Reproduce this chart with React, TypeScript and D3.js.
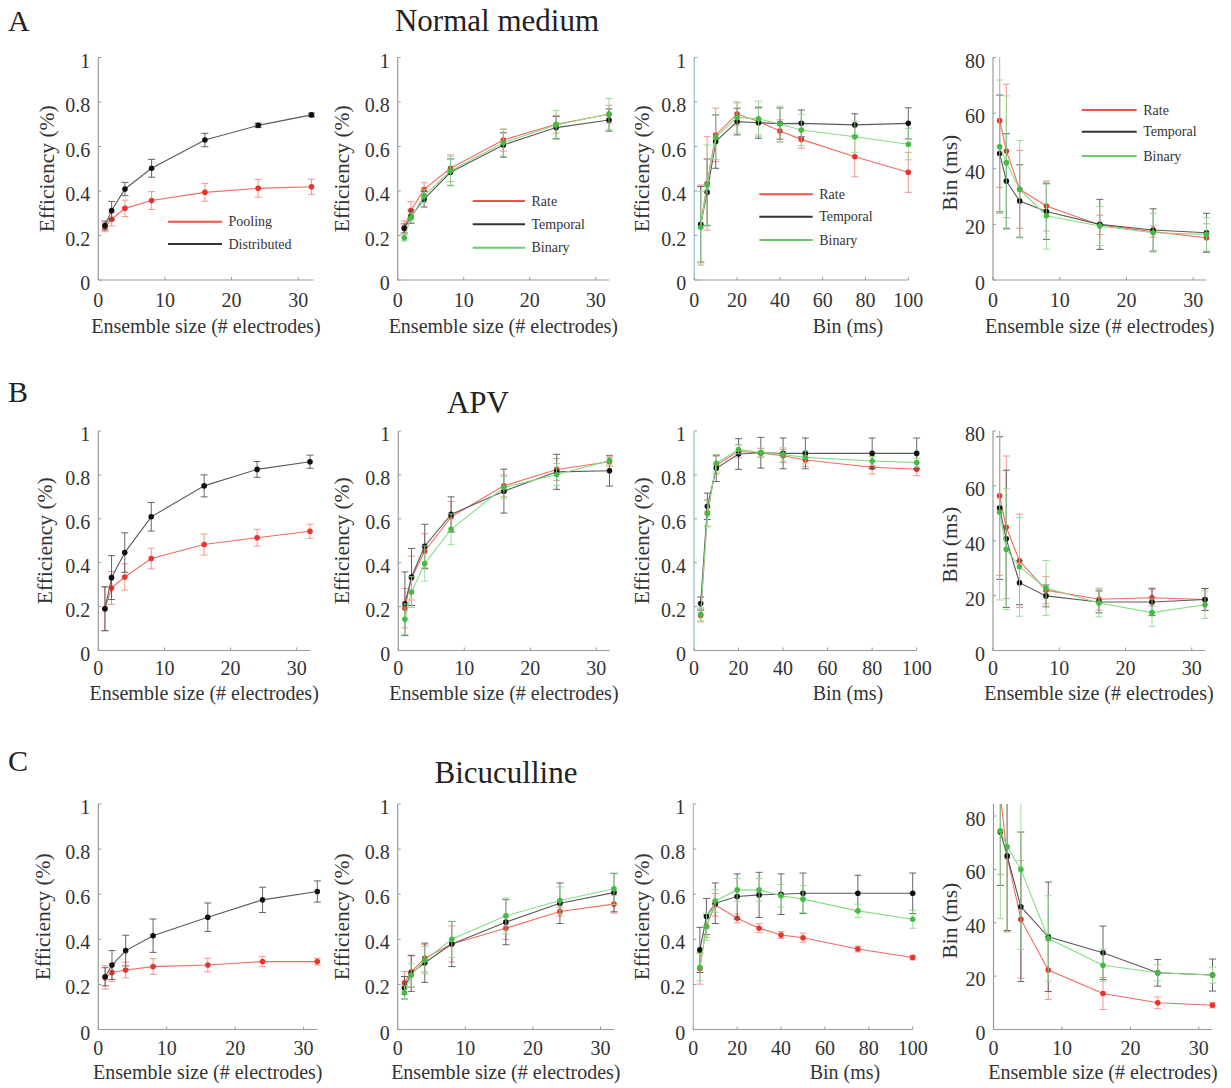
import React from 'react';
import * as d3 from 'd3';

// ---------- data ----------
const ENSEMBLE_SIZES = [1, 2, 4, 8, 16, 24, 32];
const BIN_SIZES = [3, 6, 10, 20, 30, 40, 50, 75, 100];
const BIN_SIZES_APV = [3, 6, 10, 20, 30, 40, 50, 80, 100];

const EFF_TICKS = [0, 0.2, 0.4, 0.6, 0.8, 1];
const EFF_TICK_LABELS = ['0', '0.2', '0.4', '0.6', '0.8', '1'];
const BINMS_TICKS = [0, 20, 40, 60, 80];
const BINMS_TICK_LABELS = ['0', '20', '40', '60', '80'];
const ENSEMBLE_TICKS = [0, 10, 20, 30];
const ENSEMBLE_TICK_LABELS = ['0', '10', '20', '30'];
const BIN_TICKS = [0, 20, 40, 60, 80, 100];
const BIN_TICK_LABELS = ['0', '20', '40', '60', '80', '100'];

const ROW_TITLES = ['Normal medium', 'APV', 'Bicuculline'];
const ROW_LETTERS = ['A', 'B', 'C'];
const LEGEND_POOL = ['Pooling', 'Distributed'];
const LEGEND_CODE = ['Rate', 'Temporal', 'Binary'];

// Row A – Normal medium
const A1_POOLING = [0.237, 0.273, 0.322, 0.357, 0.394, 0.412, 0.419];
const A1_POOLING_ERR = [0.02, 0.03, 0.037, 0.04, 0.04, 0.04, 0.034];
const A1_DISTRIB = [0.245, 0.312, 0.409, 0.502, 0.629, 0.695, 0.742];
const A1_DISTRIB_ERR = [0.02, 0.041, 0.03, 0.04, 0.03, 0.01, 0.008];

const A2_RATE = [0.235, 0.312, 0.407, 0.502, 0.629, 0.7, 0.745];
const A2_RATE_ERR = [0.03, 0.04, 0.03, 0.06, 0.05, 0.04, 0.04];
const A2_TEMP = [0.232, 0.285, 0.363, 0.484, 0.607, 0.685, 0.719];
const A2_TEMP_ERR = [0.02, 0.03, 0.035, 0.06, 0.055, 0.05, 0.05];
const A2_BIN = [0.19, 0.28, 0.378, 0.491, 0.617, 0.697, 0.746];
const A2_BIN_ERR = [0.015, 0.02, 0.03, 0.065, 0.06, 0.065, 0.07];

const A3_RATE = [0.247, 0.434, 0.652, 0.746, 0.712, 0.67, 0.632, 0.554, 0.484];
const A3_RATE_ERR = [0.18, 0.21, 0.12, 0.05, 0.06, 0.05, 0.04, 0.09, 0.09];
const A3_TEMP = [0.25, 0.394, 0.622, 0.712, 0.707, 0.703, 0.704, 0.697, 0.704];
const A3_TEMP_ERR = [0.17, 0.15, 0.12, 0.06, 0.07, 0.07, 0.06, 0.05, 0.07];
const A3_BIN = [0.237, 0.427, 0.641, 0.731, 0.724, 0.701, 0.674, 0.644, 0.61];
const A3_BIN_ERR = [0.16, 0.18, 0.1, 0.07, 0.08, 0.08, 0.07, 0.07, 0.07];

const A4_RATE = [57.3, 46.4, 32.6, 26.6, 19.8, 17.4, 15.2];
const A4_RATE_ERR = [24, 24, 14, 9, 3.5, 2, 5];
const A4_TEMP = [45.5, 35.6, 28.4, 24.6, 20.0, 18.0, 17.0];
const A4_TEMP_ERR = [21, 17, 13, 10, 9, 7.6, 7];
const A4_BIN = [47.9, 42.2, 32.6, 23.1, 19.4, 17.0, 16.4];
const A4_BIN_ERR = [24, 24, 17.5, 12, 7, 7, 6];

// Row B – APV
const B1_POOLING = [0.19, 0.285, 0.335, 0.419, 0.483, 0.514, 0.543];
const B1_POOLING_ERR = [0.1, 0.075, 0.06, 0.047, 0.048, 0.038, 0.032];
const B1_DISTRIB = [0.19, 0.332, 0.446, 0.609, 0.75, 0.825, 0.86];
const B1_DISTRIB_ERR = [0.1, 0.1, 0.09, 0.065, 0.05, 0.036, 0.03];

const B2_RATE = [0.193, 0.33, 0.452, 0.609, 0.75, 0.825, 0.86];
const B2_RATE_ERR = [0.09, 0.1, 0.08, 0.07, 0.05, 0.05, 0.02];
const B2_TEMP = [0.213, 0.335, 0.475, 0.62, 0.726, 0.814, 0.819];
const B2_TEMP_ERR = [0.145, 0.13, 0.1, 0.08, 0.1, 0.08, 0.07];
const B2_BIN = [0.142, 0.266, 0.396, 0.552, 0.743, 0.802, 0.865];
const B2_BIN_ERR = [0.07, 0.07, 0.08, 0.07, 0.05, 0.05, 0.02];

const B3_RATE = [0.16, 0.627, 0.845, 0.908, 0.9, 0.887, 0.868, 0.835, 0.826];
const B3_RATE_ERR = [0.03, 0.06, 0.04, 0.03, 0.02, 0.03, 0.03, 0.03, 0.03];
const B3_TEMP = [0.214, 0.657, 0.83, 0.895, 0.901, 0.898, 0.898, 0.898, 0.898];
const B3_TEMP_ERR = [0.03, 0.06, 0.06, 0.07, 0.07, 0.07, 0.07, 0.07, 0.07];
const B3_BIN = [0.165, 0.623, 0.853, 0.916, 0.902, 0.893, 0.88, 0.863, 0.856];
const B3_BIN_ERR = [0.03, 0.06, 0.04, 0.02, 0.02, 0.03, 0.03, 0.02, 0.02];

const B4_RATE = [56.4, 44.9, 32.7, 22.0, 18.7, 19.2, 18.6];
const B4_RATE_ERR = [29, 26, 17, 5, 4, 3, 4];
const B4_TEMP = [51.9, 40.7, 24.7, 19.9, 17.7, 17.7, 18.6];
const B4_TEMP_ERR = [26, 25, 8, 4, 4, 5, 4];
const B4_BIN = [50.4, 36.9, 30.5, 22.8, 17.3, 13.8, 16.7];
const B4_BIN_ERR = [32, 22, 18, 10, 5, 5, 5];

// Row C – Bicuculline
const C1_POOLING = [0.231, 0.253, 0.264, 0.279, 0.286, 0.301, 0.301];
const C1_POOLING_ERR = [0.052, 0.04, 0.035, 0.035, 0.03, 0.022, 0.015];
const C1_DISTRIB = [0.234, 0.286, 0.35, 0.416, 0.498, 0.575, 0.612];
const C1_DISTRIB_ERR = [0.04, 0.064, 0.068, 0.074, 0.063, 0.056, 0.047];

const C2_RATE = [0.207, 0.256, 0.316, 0.379, 0.449, 0.523, 0.556];
const C2_RATE_ERR = [0.05, 0.07, 0.06, 0.08, 0.05, 0.02, 0.04];
const C2_TEMP = [0.185, 0.249, 0.296, 0.379, 0.476, 0.56, 0.607];
const C2_TEMP_ERR = [0.05, 0.08, 0.087, 0.1, 0.1, 0.09, 0.085];
const C2_BIN = [0.163, 0.241, 0.308, 0.4, 0.504, 0.572, 0.624];
const C2_BIN_ERR = [0.03, 0.05, 0.06, 0.08, 0.08, 0.06, 0.07];

const C3_RATE = [0.271, 0.459, 0.553, 0.493, 0.449, 0.419, 0.407, 0.357, 0.319];
const C3_RATE_ERR = [0.07, 0.05, 0.05, 0.02, 0.02, 0.015, 0.02, 0.013, 0.01];
const C3_TEMP = [0.353, 0.501, 0.56, 0.59, 0.597, 0.6, 0.604, 0.604, 0.604];
const C3_TEMP_ERR = [0.1, 0.08, 0.09, 0.1, 0.1, 0.09, 0.09, 0.08, 0.09];
const C3_BIN = [0.276, 0.456, 0.57, 0.619, 0.619, 0.593, 0.578, 0.526, 0.489];
const C3_BIN_ERR = [0.06, 0.06, 0.05, 0.05, 0.05, 0.05, 0.06, 0.03, 0.04];

const C4_RATE = [88, 64.75, 41.25, 22.25, 13.5, 10, 9.1];
const C4_RATE_ERR = [30, 28, 22, 11, 6, 2.2, 1];
const C4_TEMP = [74, 65.1, 46, 34.75, 28.75, 21.25, 20.4];
const C4_TEMP_ERR = [20, 28, 28, 20.5, 10, 5, 6];
const C4_BIN = [74.5, 68.5, 60, 34.1, 24.1, 21.25, 20.4];
const C4_BIN_ERR = [33, 32, 30, 16, 6, 3, 3];

// ---------- styles ----------
const FONT = '"Liberation Serif", "Times New Roman", Times, serif';
const STYLE = {
  red: { line: '#f26a62', err: '#f48a84', dot: '#e8352b' },
  black: { line: '#5a5a5a', err: '#555555', dot: '#111111' },
  green: { line: '#86dc86', err: '#8fd98f', dot: '#45bb45' },
};
const LEGEND_COLORS = { red: '#f0524a', black: '#333333', green: '#6acb6a' };

type Series = { xs: number[]; ys: number[]; err: number[]; color: 'red' | 'black' | 'green' };
type PanelCfg = {
  id: string;
  left: number; right: number; top: number; bottom: number;
  xmax: number; ymax: number;
  xticks: number[]; xtickLabels: string[];
  yticks: number[]; ytickLabels: string[];
  xTitle: string; xTitleX: number; xTitleY: number; xTickY: number;
  yTitle: string; yTitleX: number; yTitleY: number;
  series: Series[];
  yAxisColor: string;
  legend?: { labels: string[]; colors: ('red' | 'black' | 'green')[]; x0: number; x1: number; ys: number[] };
};

const ROW_Y = [
  { top: 57.5, bottom: 280, tick: 299.5, title: 326 },
  { top: 431, bottom: 650.5, tick: 668, title: 693 },
  { top: 804, bottom: 1029.5, tick: 1047.5, title: 1072 },
];

const mk = (xs: number[], ys: number[], err: number[], color: Series['color']): Series => ({ xs, ys, err, color });

function buildPanels(): PanelCfg[] {
  const cols = [
    [{ l: 98.3, r: 313.5, xm: 32.3 }, { l: 397.7, r: 609, xm: 32 }, { l: 694.3, r: 908.3, xm: 100 }, { l: 993, r: 1206.5, xm: 32 }],
    [{ l: 98.3, r: 310, xm: 32 }, { l: 398.3, r: 609.5, xm: 32 }, { l: 694, r: 916.7, xm: 100 }, { l: 993, r: 1205, xm: 32 }],
    [{ l: 98.3, r: 317.3, xm: 32 }, { l: 397.7, r: 614, xm: 32 }, { l: 693.3, r: 912.7, xm: 100 }, { l: 993.5, r: 1212.5, xm: 32 }],
  ];
  const data = [
    [
      [mk(ENSEMBLE_SIZES, A1_POOLING, A1_POOLING_ERR, 'red'), mk(ENSEMBLE_SIZES, A1_DISTRIB, A1_DISTRIB_ERR, 'black')],
      [mk(ENSEMBLE_SIZES, A2_RATE, A2_RATE_ERR, 'red'), mk(ENSEMBLE_SIZES, A2_TEMP, A2_TEMP_ERR, 'black'), mk(ENSEMBLE_SIZES, A2_BIN, A2_BIN_ERR, 'green')],
      [mk(BIN_SIZES, A3_RATE, A3_RATE_ERR, 'red'), mk(BIN_SIZES, A3_TEMP, A3_TEMP_ERR, 'black'), mk(BIN_SIZES, A3_BIN, A3_BIN_ERR, 'green')],
      [mk(ENSEMBLE_SIZES, A4_RATE, A4_RATE_ERR, 'red'), mk(ENSEMBLE_SIZES, A4_TEMP, A4_TEMP_ERR, 'black'), mk(ENSEMBLE_SIZES, A4_BIN, A4_BIN_ERR, 'green')],
    ],
    [
      [mk(ENSEMBLE_SIZES, B1_POOLING, B1_POOLING_ERR, 'red'), mk(ENSEMBLE_SIZES, B1_DISTRIB, B1_DISTRIB_ERR, 'black')],
      [mk(ENSEMBLE_SIZES, B2_RATE, B2_RATE_ERR, 'red'), mk(ENSEMBLE_SIZES, B2_TEMP, B2_TEMP_ERR, 'black'), mk(ENSEMBLE_SIZES, B2_BIN, B2_BIN_ERR, 'green')],
      [mk(BIN_SIZES_APV, B3_RATE, B3_RATE_ERR, 'red'), mk(BIN_SIZES_APV, B3_TEMP, B3_TEMP_ERR, 'black'), mk(BIN_SIZES_APV, B3_BIN, B3_BIN_ERR, 'green')],
      [mk(ENSEMBLE_SIZES, B4_RATE, B4_RATE_ERR, 'red'), mk(ENSEMBLE_SIZES, B4_TEMP, B4_TEMP_ERR, 'black'), mk(ENSEMBLE_SIZES, B4_BIN, B4_BIN_ERR, 'green')],
    ],
    [
      [mk(ENSEMBLE_SIZES, C1_POOLING, C1_POOLING_ERR, 'red'), mk(ENSEMBLE_SIZES, C1_DISTRIB, C1_DISTRIB_ERR, 'black')],
      [mk(ENSEMBLE_SIZES, C2_RATE, C2_RATE_ERR, 'red'), mk(ENSEMBLE_SIZES, C2_TEMP, C2_TEMP_ERR, 'black'), mk(ENSEMBLE_SIZES, C2_BIN, C2_BIN_ERR, 'green')],
      [mk(BIN_SIZES, C3_RATE, C3_RATE_ERR, 'red'), mk(BIN_SIZES, C3_TEMP, C3_TEMP_ERR, 'black'), mk(BIN_SIZES, C3_BIN, C3_BIN_ERR, 'green')],
      [mk(ENSEMBLE_SIZES, C4_RATE, C4_RATE_ERR, 'red'), mk(ENSEMBLE_SIZES, C4_TEMP, C4_TEMP_ERR, 'black'), mk(ENSEMBLE_SIZES, C4_BIN, C4_BIN_ERR, 'green')],
    ],
  ];
  const yTitleXs = [[46.5, 342, 641.5, 950], [44.5, 342, 641.5, 950], [43, 342, 641.5, 950]];
  const binTitleX = [848, 848, 845];
  const panels: PanelCfg[] = [];
  for (let r = 0; r < 3; r++) {
    for (let c = 0; c < 4; c++) {
      const col = cols[r][c];
      const isBinX = c === 2;
      const isBinY = c === 3;
      const midY = (ROW_Y[r].top + ROW_Y[r].bottom) / 2;
      const cfg: PanelCfg = {
        id: `p${r}${c}`,
        left: col.l, right: col.r, top: ROW_Y[r].top, bottom: ROW_Y[r].bottom,
        xmax: col.xm,
        ymax: isBinY ? (r === 2 ? 84.5 : 80) : 1,
        xticks: isBinX ? BIN_TICKS : ENSEMBLE_TICKS,
        xtickLabels: isBinX ? BIN_TICK_LABELS : ENSEMBLE_TICK_LABELS,
        yticks: isBinY ? BINMS_TICKS : EFF_TICKS,
        ytickLabels: isBinY ? BINMS_TICK_LABELS : EFF_TICK_LABELS,
        xTitle: isBinX ? 'Bin (ms)' : 'Ensemble size (# electrodes)',
        xTitleX: isBinX ? binTitleX[r] : (col.l + col.r) / 2,
        xTitleY: ROW_Y[r].title,
        xTickY: ROW_Y[r].tick,
        yTitle: isBinY ? 'Bin (ms)' : 'Efficiency (%)',
        yTitleX: yTitleXs[r][c],
        yTitleY: isBinY ? midY + 4 : midY,
        series: data[r][c],
        yAxisColor: isBinX ? '#93bccb' : '#9a9a9a',
      };
      if (r === 0) {
        if (c === 0) cfg.legend = { labels: LEGEND_POOL, colors: ['red', 'black'], x0: 168, x1: 222, ys: [221.7, 244] };
        if (c === 1) cfg.legend = { labels: LEGEND_CODE, colors: ['red', 'black', 'green'], x0: 472.7, x1: 525, ys: [201, 224.3, 247.7] };
        if (c === 2) cfg.legend = { labels: LEGEND_CODE, colors: ['red', 'black', 'green'], x0: 759.3, x1: 812.7, ys: [194.3, 216.7, 240] };
        if (c === 3) cfg.legend = { labels: LEGEND_CODE, colors: ['red', 'black', 'green'], x0: 1081.7, x1: 1136.7, ys: [110, 131.7, 156] };
      }
      panels.push(cfg);
    }
  }
  return panels;
}

function Panel({ cfg }: { cfg: PanelCfg }) {
  const x = d3.scaleLinear().domain([0, cfg.xmax]).range([cfg.left, cfg.right]);
  const y = d3.scaleLinear().domain([0, cfg.ymax]).range([cfg.bottom, cfg.top]);
  const line = d3.line<[number, number]>().x((d) => x(d[0])).y((d) => y(d[1]));
  const cap = 3.5;
  const tickLen = 3;
  return (
    <g>
      <defs>
        <clipPath id={`clip-${cfg.id}`}>
          <rect x={cfg.left} y={cfg.top} width={cfg.right - cfg.left + 8} height={cfg.bottom - cfg.top} />
        </clipPath>
      </defs>
      {/* axes */}
      <line x1={cfg.left} x2={cfg.right} y1={cfg.bottom} y2={cfg.bottom} stroke="#9a9a9a" strokeWidth={1.2} />
      <line x1={cfg.left} x2={cfg.left} y1={cfg.top} y2={cfg.bottom} stroke={cfg.yAxisColor} strokeWidth={1.2} />
      {cfg.xticks.map((t, i) => (
        <g key={`xt${i}`}>
          <line x1={x(t)} x2={x(t)} y1={cfg.bottom} y2={cfg.bottom - tickLen} stroke="#9a9a9a" strokeWidth={1} />
          <text x={x(t)} y={cfg.xTickY} textAnchor="middle" dominantBaseline="central" fontFamily={FONT} fontSize={20} fill="#333">
            {cfg.xtickLabels[i]}
          </text>
        </g>
      ))}
      {cfg.yticks.map((t, i) => (
        <g key={`yt${i}`}>
          <line x1={cfg.left} x2={cfg.left + tickLen} y1={y(t)} y2={y(t)} stroke="#9a9a9a" strokeWidth={1} />
          <text x={cfg.left - 8} y={y(t) + 3} textAnchor="end" dominantBaseline="central" fontFamily={FONT} fontSize={20} fill="#333">
            {cfg.ytickLabels[i]}
          </text>
        </g>
      ))}
      <text x={cfg.xTitleX} y={cfg.xTitleY} textAnchor="middle" dominantBaseline="central" fontFamily={FONT} fontSize={20} fill="#333">
        {cfg.xTitle}
      </text>
      <text
        transform={`translate(${cfg.yTitleX},${cfg.yTitleY}) rotate(-90)`}
        textAnchor="middle" dominantBaseline="central" fontFamily={FONT} fontSize={21.5} fill="#333"
      >
        {cfg.yTitle}
      </text>
      {/* data */}
      <g clipPath={`url(#clip-${cfg.id})`}>
        {cfg.series.map((s, si) => {
          const st = STYLE[s.color];
          const pts: [number, number][] = s.xs.map((xv, i) => [xv, s.ys[i]]);
          return (
            <g key={`s${si}`}>
              {s.xs.map((xv, i) => {
                const cx = x(xv);
                const y1 = y(s.ys[i] + s.err[i]);
                const y2 = y(s.ys[i] - s.err[i]);
                return (
                  <g key={`e${i}`} stroke={st.err} strokeWidth={0.9}>
                    <line x1={cx} x2={cx} y1={y1} y2={y2} />
                    <line x1={cx - cap} x2={cx + cap} y1={y1} y2={y1} />
                    <line x1={cx - cap} x2={cx + cap} y1={y2} y2={y2} />
                  </g>
                );
              })}
              <path d={line(pts) || ''} fill="none" stroke={st.line} strokeWidth={1.1} />
              {pts.map((p, i) => (
                <circle key={`c${i}`} cx={x(p[0])} cy={y(p[1])} r={2.8} fill={st.dot} />
              ))}
            </g>
          );
        })}
      </g>
      {cfg.legend && (
        <g>
          {cfg.legend.labels.map((lab, i) => (
            <g key={`lg${i}`}>
              <line x1={cfg.legend!.x0} x2={cfg.legend!.x1} y1={cfg.legend!.ys[i]} y2={cfg.legend!.ys[i]}
                stroke={LEGEND_COLORS[cfg.legend!.colors[i]]} strokeWidth={2} />
              <text x={cfg.legend!.x1 + 6.5} y={cfg.legend!.ys[i]} dominantBaseline="central" fontFamily={FONT} fontSize={14} fill="#333">
                {lab}
              </text>
            </g>
          ))}
        </g>
      )}
    </g>
  );
}

export default function App() {
  const panels = buildPanels();
  const letterYs = [31, 402, 771];
  const titleXs = [497, 478, 506];
  const titleYs = [31, 413, 783];
  return (
    <svg width={1231} height={1088} style={{ position: 'absolute', left: 0, top: 0, background: '#fff' }}>
      <rect x={0} y={0} width={1231} height={1088} fill="#fff" />
      {ROW_LETTERS.map((l, i) => (
        <text key={l} x={8} y={letterYs[i]} fontFamily={FONT} fontSize={30} fill="#222">{l}</text>
      ))}
      {ROW_TITLES.map((t, i) => (
        <text key={t} x={titleXs[i]} y={titleYs[i]} textAnchor="middle" fontFamily={FONT} fontSize={31} fill="#222">{t}</text>
      ))}
      {panels.map((p) => <Panel key={p.id} cfg={p} />)}
    </svg>
  );
}
